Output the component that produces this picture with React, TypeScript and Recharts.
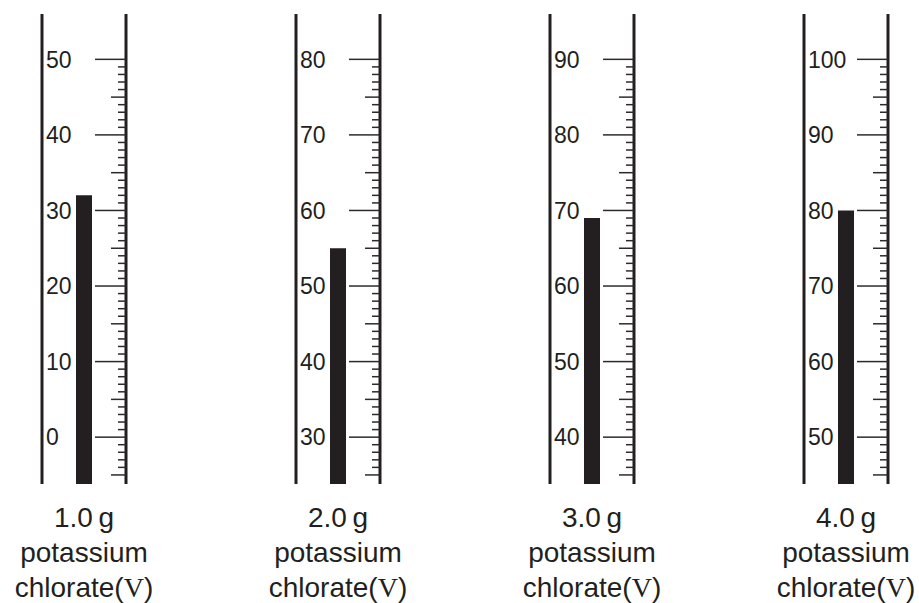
import { Bar, BarChart, XAxis, YAxis } from "recharts";

// mass of potassium chlorate(V) heated in each run
const masses = ["1.0", "2.0", "3.0", "4.0"];
// volume (top of the dark column)
const readings = [32, 55, 69, 80];
// numbered graduations on each scale
const scaleLabels = [
  [0, 10, 20, 30, 40, 50],
  [30, 40, 50, 60, 70, 80],
  [40, 50, 60, 70, 80, 90],
  [50, 60, 70, 80, 90, 100],
];

const ink = "#231f20";
const sans = "'Liberation Sans', Arial, Helvetica, sans-serif";

// every 1 unit from half a decade below the first label to the last label
const graduations = (labels: number[]) => {
  const out: number[] = [];
  for (let v = labels[0] - 5; v <= labels[labels.length - 1]; v++) out.push(v);
  return out;
};

const Graduation = (props: any) => {
  const { x, y, payload } = props;
  const v = payload.value;
  const len = v % 10 === 0 ? 31 : v % 5 === 0 ? 15 : 8;
  return <line x1={x - len} x2={x} y1={y} y2={y} stroke="#2e2a2b" strokeWidth={1.5} />;
};

const Caption = (props: any) => {
  const { x, y, payload } = props;
  return (
    <text x={x} y={y} textAnchor="middle" fontSize={28} fill={ink} fontFamily={sans}>
      <tspan x={x} dy={43}>{payload.value + "\u2009g"}</tspan>
      <tspan x={x} dy={35}>potassium</tspan>
      <tspan x={x} dy={35}>
        chlorate(<tspan fontFamily="'Liberation Serif', 'Times New Roman', serif">V</tspan>)
      </tspan>
    </text>
  );
};

const Syringe = ({ i }: { i: number }) => {
  const labels = scaleLabels[i];
  const lo = labels[0] - 6.2;
  const hi = labels[labels.length - 1] + 6;
  const data = [{ mass: masses[i], volume: [lo, readings[i]] }];
  return (
    <div style={{ position: "absolute", left: -42 + 254 * i, top: 0 }}>
      <BarChart width={254} height={603} data={data} margin={{ top: 14, right: 85, bottom: 0, left: 84 }}>
        <XAxis
          dataKey="mass"
          height={119}
          axisLine={false}
          tickLine={false}
          tickSize={0}
          tickMargin={0}
          tick={<Caption />}
        />
        <YAxis
          yAxisId="labels"
          orientation="left"
          width={1}
          mirror
          type="number"
          domain={[lo, hi]}
          allowDataOverflow
          ticks={labels}
          interval={0}
          axisLine={{ stroke: ink, strokeWidth: 3 }}
          tickLine={false}
          tickSize={0}
          tickMargin={4}
          tick={{ fontSize: 23, fill: ink, fontFamily: sans }}
        />
        <YAxis
          yAxisId="scale"
          orientation="right"
          width={1}
          type="number"
          domain={[lo, hi]}
          allowDataOverflow
          ticks={graduations(labels)}
          interval={0}
          axisLine={{ stroke: ink, strokeWidth: 3 }}
          tickLine={false}
          tickSize={0}
          tickMargin={0}
          tick={<Graduation />}
        />
        <Bar yAxisId="scale" dataKey="volume" fill={ink} barSize={16} isAnimationActive={false} />
      </BarChart>
    </div>
  );
};

export default function App() {
  return (
    <div
      style={{
        position: "absolute",
        left: 0,
        top: 0,
        width: 919,
        height: 603,
        overflow: "hidden",
        background: "#fff",
      }}
    >
      {masses.map((_, i) => (
        <Syringe key={i} i={i} />
      ))}
    </div>
  );
}
